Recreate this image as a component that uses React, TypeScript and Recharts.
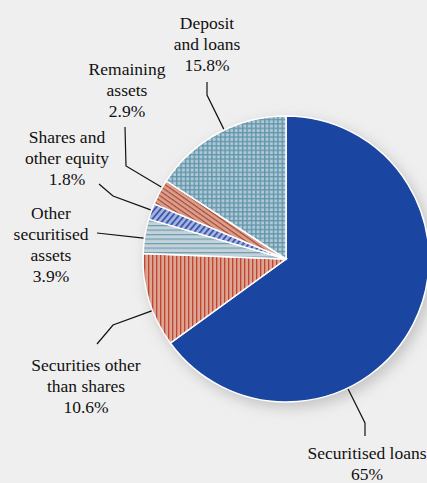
import { PieChart, Pie, Cell } from 'recharts'

// Balance sheet composition (share of total, %)
const names = [
  'Securitised loans',
  'Securities other\nthan shares',
  'Other\nsecuritised\nassets',
  'Shares and\nother equity',
  'Remaining\nassets',
  'Deposit\nand loans',
]
const shares = [65, 10.6, 3.9, 1.8, 2.9, 15.8]
const fills = ['#1a45a0', 'url(#pVert)', 'url(#pHoriz)', 'url(#pShares)', 'url(#pRemain)', 'url(#pGrid)']

// label placement: text centre/baseline, where along the slice arc the leader starts,
// and the elbow points of the leader line
const LABEL_LAYOUT = [
  { x: 367, y: 459, t: 0.66, bend: [[365, 423], [365, 436]] },
  { x: 86, y: 371, t: 0.39, bend: [[113, 325], [97, 344]] },
  { x: 51, y: 219, t: 0.44, bend: [[97, 233]] },
  { x: 67, y: 143, t: 0.58, bend: [[113, 196], [99, 184]] },
  { x: 127, y: 75, t: 0.7, bend: [[126, 166], [125, 127]] },
  { x: 207, y: 29, t: 0.55, bend: [[207, 95], [207, 82]] },
]

const data = names.map((name, i) => ({ name, value: shares[i] }))

const FONT = 'Liberation Serif, Tinos, Times New Roman, DejaVu Serif, Noto Serif, serif'
const LINE_H = 21

const renderLabel = (props: any) => {
  const { cx, cy, outerRadius, startAngle, endAngle, index, value, name } = props
  const lay = LABEL_LAYOUT[index]
  const a = startAngle + lay.t * (endAngle - startAngle)
  const rad = (-a * Math.PI) / 180
  const r = outerRadius + 1
  const ax = cx + r * Math.cos(rad)
  const ay = cy + r * Math.sin(rad)
  const pts = [[ax, ay], ...lay.bend].map((p) => p.join(',')).join(' ')
  const lines = [...String(name).split('\n'), `${value}%`]
  return (
    <g key={`lbl-${index}`}>
      <polyline points={pts} fill="none" stroke="#111" strokeWidth={1.2} />
      <text
        x={lay.x}
        y={lay.y}
        textAnchor="middle"
        fill="#111"
        fontFamily={FONT}
        fontSize={17.5}
      >
        {lines.map((l, i) => (
          <tspan key={i} x={lay.x} y={lay.y + i * LINE_H}>
            {l}
          </tspan>
        ))}
      </text>
    </g>
  )
}

export default function App() {
  return (
    <div style={{ width: 427, height: 483, background: '#efefef', overflow: 'hidden', fontFamily: FONT }}>
      <style>{'body{margin:0;background:#efefef}'}</style>
      <PieChart width={427} height={483} margin={{ top: 0, right: 0, bottom: 0, left: 0 }}>
        <defs>
          <filter id="blur" x="-20%" y="-20%" width="140%" height="140%">
            <feGaussianBlur stdDeviation="7" />
          </filter>
          <pattern id="pGrid" width="4.4" height="4.4" patternUnits="userSpaceOnUse">
            <rect width="4.4" height="4.4" fill="#b4c8d4" />
            <path d="M0 0.7H4.4M0.7 0V4.4" stroke="#5f97ad" strokeWidth="1.4" />
          </pattern>
          <pattern id="pRemain" width="4" height="4" patternUnits="userSpaceOnUse" patternTransform="rotate(35)">
            <rect width="4" height="4" fill="#d9a18d" />
            <path d="M0 0.6H4" stroke="#a8402e" strokeWidth="1.1" />
          </pattern>
          <pattern id="pShares" width="4.5" height="4.5" patternUnits="userSpaceOnUse" patternTransform="rotate(-50)">
            <rect width="4.5" height="4.5" fill="#a6b5e1" />
            <path d="M0 1H4.5" stroke="#3653a6" strokeWidth="1.8" />
          </pattern>
          <pattern id="pHoriz" width="4" height="4.5" patternUnits="userSpaceOnUse">
            <rect width="4" height="4.5" fill="#c4d2da" />
            <path d="M0 0.6H4" stroke="#6c9db0" strokeWidth="1.2" />
          </pattern>
          <pattern id="pVert" width="4" height="4" patternUnits="userSpaceOnUse">
            <rect width="4" height="4" fill="#dca591" />
            <path d="M0.7 0V4" stroke="#c0392b" strokeWidth="1.2" />
          </pattern>
        </defs>
        {/* soft shadow under the pie */}
        <Pie
          data={data}
          dataKey="value"
          cx={290}
          cy={264}
          outerRadius={144}
          startAngle={90}
          endAngle={-270}
          stroke="none"
          isAnimationActive={false}
          labelLine={false}
        >
          {data.map((_, i) => (
            <Cell key={`s-${i}`} fill="#9a9a9a" fillOpacity={0.5} filter="url(#blur)" />
          ))}
        </Pie>
        <Pie
          data={data}
          dataKey="value"
          cx={286}
          cy={259}
          outerRadius={143}
          startAngle={90}
          endAngle={-270}
          stroke="#fff"
          strokeWidth={1.5}
          isAnimationActive={false}
          labelLine={false}
          label={renderLabel}
        >
          {data.map((_, i) => (
            <Cell key={`c-${i}`} fill={fills[i]} />
          ))}
        </Pie>
      </PieChart>
    </div>
  )
}
